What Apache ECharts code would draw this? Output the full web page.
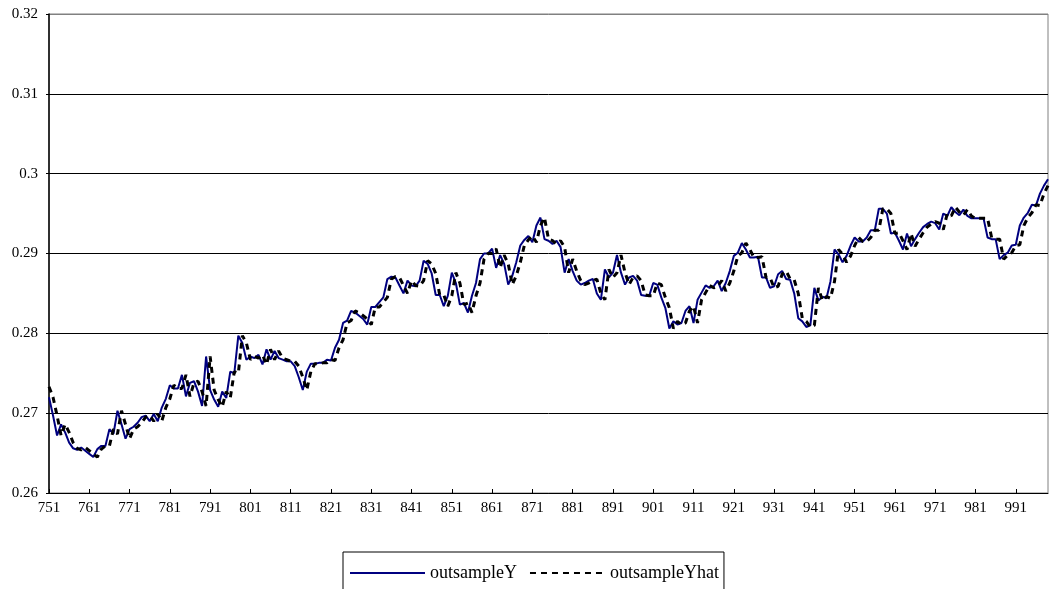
<!DOCTYPE html>
<html><head><meta charset="utf-8">
<script src="https://cdn.jsdelivr.net/npm/echarts@6/dist/echarts.min.js"></script>
<style>html,body{margin:0;padding:0;background:#fff}#c{width:1050px;height:589px}</style>
</head><body><div id="c"></div>
<script>
var firstCategory = 751, lastCategory = 999;
var categories = [];
for (var c = firstCategory; c <= lastCategory; c++) categories.push(String(c));

var outsampleY = [
0.2720,0.2697,0.2672,0.2686,0.2676,0.2663,0.2656,0.2654,0.2657,0.2653,
0.2649,0.2645,0.2655,0.2659,0.2659,0.2680,0.2674,0.2703,0.2686,0.2668,
0.2680,0.2683,0.2688,0.2695,0.2697,0.2690,0.2699,0.2690,0.2707,0.2718,
0.2735,0.2731,0.2731,0.2748,0.2721,0.2738,0.2740,0.2727,0.2709,0.2771,
0.2729,0.2717,0.2708,0.2727,0.2719,0.2752,0.2750,0.2797,0.2788,0.2767,
0.2771,0.2769,0.2773,0.2761,0.2780,0.2767,0.2778,0.2769,0.2767,0.2765,
0.2765,0.2759,0.2745,0.2729,0.2752,0.2762,0.2762,0.2763,0.2763,0.2767,
0.2766,0.2782,0.2792,0.2813,0.2816,0.2828,0.2826,0.2822,0.2818,0.2811,
0.2833,0.2833,0.2839,0.2845,0.2868,0.2871,0.2870,0.2860,0.2850,0.2866,
0.2860,0.2859,0.2866,0.2891,0.2887,0.2875,0.2848,0.2848,0.2834,0.2847,
0.2876,0.2863,0.2836,0.2838,0.2826,0.2847,0.2863,0.2893,0.2900,0.2900,
0.2906,0.2882,0.2898,0.2887,0.2861,0.2872,0.2889,0.2910,0.2917,0.2922,
0.2914,0.2935,0.2945,0.2918,0.2916,0.2912,0.2916,0.2908,0.2876,0.2893,
0.2878,0.2866,0.2861,0.2863,0.2866,0.2868,0.2850,0.2842,0.2880,0.2870,
0.2876,0.2898,0.2876,0.2861,0.2870,0.2872,0.2866,0.2848,0.2847,0.2847,
0.2863,0.2861,0.2845,0.2832,0.2806,0.2815,0.2811,0.2813,0.2828,0.2834,
0.2813,0.2842,0.2851,0.2860,0.2857,0.2859,0.2866,0.2853,0.2863,0.2878,
0.2897,0.2901,0.2913,0.2905,0.2895,0.2895,0.2896,0.2870,0.2870,0.2857,
0.2859,0.2874,0.2878,0.2868,0.2867,0.2850,0.2819,0.2815,0.2808,0.2810,
0.2857,0.2841,0.2846,0.2844,0.2865,0.2905,0.2899,0.2889,0.2897,0.2910,
0.2920,0.2915,0.2915,0.2920,0.2929,0.2929,0.2956,0.2956,0.2950,0.2925,
0.2926,0.2916,0.2905,0.2925,0.2909,0.2918,0.2926,0.2933,0.2937,0.2940,
0.2938,0.2930,0.2950,0.2947,0.2958,0.2952,0.2948,0.2955,0.2947,0.2944,
0.2944,0.2944,0.2944,0.2920,0.2918,0.2918,0.2893,0.2898,0.2901,0.2910,
0.2911,0.2935,0.2945,0.2951,0.2961,0.2960,0.2975,0.2985,0.2993
];

var outsampleYhat = [
0.2733,0.2720,0.2697,0.2672,0.2686,0.2676,0.2663,0.2656,0.2654,0.2657,
0.2653,0.2649,0.2645,0.2655,0.2659,0.2659,0.2680,0.2674,0.2703,0.2686,
0.2668,0.2680,0.2683,0.2688,0.2695,0.2697,0.2690,0.2699,0.2690,0.2707,
0.2718,0.2735,0.2731,0.2731,0.2748,0.2721,0.2738,0.2740,0.2727,0.2709,
0.2771,0.2729,0.2717,0.2708,0.2727,0.2719,0.2752,0.2750,0.2797,0.2788,
0.2767,0.2771,0.2769,0.2773,0.2761,0.2780,0.2767,0.2778,0.2769,0.2767,
0.2765,0.2765,0.2759,0.2745,0.2729,0.2752,0.2762,0.2762,0.2763,0.2763,
0.2767,0.2766,0.2782,0.2792,0.2813,0.2816,0.2828,0.2826,0.2822,0.2818,
0.2811,0.2833,0.2833,0.2839,0.2845,0.2868,0.2871,0.2870,0.2860,0.2850,
0.2866,0.2860,0.2859,0.2866,0.2891,0.2887,0.2875,0.2848,0.2848,0.2834,
0.2847,0.2876,0.2863,0.2836,0.2838,0.2826,0.2847,0.2863,0.2893,0.2900,
0.2900,0.2906,0.2882,0.2898,0.2887,0.2861,0.2872,0.2889,0.2910,0.2917,
0.2922,0.2914,0.2935,0.2945,0.2918,0.2916,0.2912,0.2916,0.2908,0.2876,
0.2893,0.2878,0.2866,0.2861,0.2863,0.2866,0.2868,0.2850,0.2842,0.2880,
0.2870,0.2876,0.2898,0.2876,0.2861,0.2870,0.2872,0.2866,0.2848,0.2847,
0.2847,0.2863,0.2861,0.2845,0.2832,0.2806,0.2815,0.2811,0.2813,0.2828,
0.2834,0.2813,0.2842,0.2851,0.2860,0.2857,0.2859,0.2866,0.2853,0.2863,
0.2878,0.2897,0.2901,0.2913,0.2905,0.2895,0.2895,0.2896,0.2870,0.2870,
0.2857,0.2859,0.2874,0.2878,0.2868,0.2867,0.2850,0.2819,0.2815,0.2808,
0.2810,0.2857,0.2841,0.2846,0.2844,0.2865,0.2905,0.2899,0.2889,0.2897,
0.2910,0.2920,0.2915,0.2915,0.2920,0.2929,0.2929,0.2956,0.2956,0.2950,
0.2925,0.2926,0.2916,0.2905,0.2925,0.2909,0.2918,0.2926,0.2933,0.2937,
0.2940,0.2938,0.2930,0.2950,0.2947,0.2958,0.2952,0.2948,0.2955,0.2947,
0.2944,0.2944,0.2944,0.2944,0.2920,0.2918,0.2918,0.2893,0.2898,0.2901,
0.2910,0.2911,0.2935,0.2945,0.2951,0.2961,0.2960,0.2975,0.2985
];

var yMin = 0.26, yMax = 0.32, yStep = 0.01;
var seriesNames = ['outsampleY', 'outsampleYhat'];

var FONT = '"Liberation Serif", "Times New Roman", serif';
var chart = echarts.init(document.getElementById('c'), null, {renderer: 'canvas'});
chart.setOption({
  animation: false,
  backgroundColor: '#ffffff',
  grid: {left: 49, right: 2, top: 14, bottom: 96, show: true, borderColor: '#808080', borderWidth: 1},
  legend: {
    left: 343, top: 552,
    data: seriesNames,
    itemWidth: 75, itemHeight: 14, itemGap: 12,
    borderColor: '#000000', borderWidth: 1,
    padding: [12, 5, 24, 6],
    itemStyle: {color: 'rgba(0,0,0,0)', borderColor: 'rgba(0,0,0,0)', borderWidth: 0, opacity: 0},
    textStyle: {fontFamily: FONT, fontSize: 18, color: '#000'}
  },
  xAxis: {
    type: 'category', data: categories, boundaryGap: false,
    axisLine: {lineStyle: {color: '#000', width: 1}},
    axisTick: {show: true, inside: true, length: 4, interval: 9, lineStyle: {color: '#000'}},
    axisLabel: {interval: 9, color: '#000', fontFamily: FONT, fontSize: 15, margin: 8},
    splitLine: {show: false}
  },
  yAxis: {
    type: 'value', min: yMin, max: yMax, interval: yStep,
    axisLine: {show: true, lineStyle: {color: '#000', width: 1.5}},
    axisTick: {show: true, inside: false, length: 3, lineStyle: {color: '#000'}},
    axisLabel: {color: '#000', fontFamily: FONT, fontSize: 15, margin: 11,
      formatter: function (v) { return String(parseFloat(v.toFixed(2))); }},
    splitLine: {show: true, lineStyle: {color: ['#000','#000','#000','#000','#000','#000','#808080'], width: 1}}
  },
  series: [
    {name: seriesNames[0], type: 'line', data: outsampleY, symbol: 'none', showSymbol: false,
     lineStyle: {color: '#000080', width: 2}, itemStyle: {color: '#000080'}, z: 2},
    {name: seriesNames[1], type: 'line', data: outsampleYhat, symbol: 'none', showSymbol: false,
     lineStyle: {color: '#000000', width: 3, type: [6, 5]}, itemStyle: {color: '#000000'}, z: 3}
  ]
});
</script>
</body></html>
